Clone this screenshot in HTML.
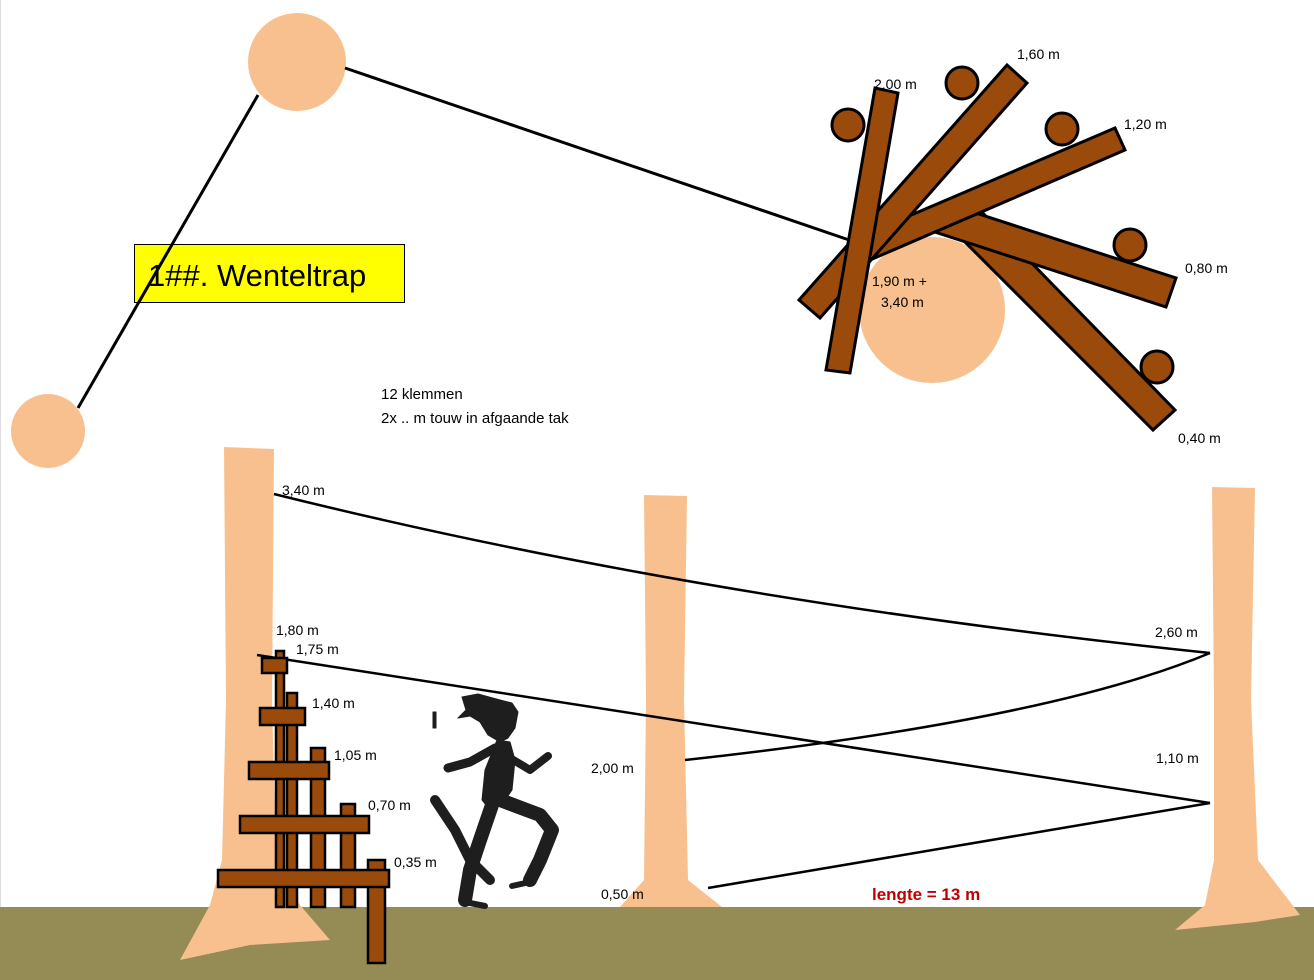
<!DOCTYPE html>
<html><head><meta charset="utf-8"><style>
html,body{margin:0;padding:0;background:#fff;}
svg{display:block;}
text{font-family:"Liberation Sans",sans-serif;font-size:14px;fill:#000;}
</style></head><body>
<svg width="1314" height="980" viewBox="0 0 1314 980" xmlns="http://www.w3.org/2000/svg">
<rect x="0" y="0" width="1314" height="980" fill="#fff"/>
<line x1="0.5" y1="0" x2="0.5" y2="980" stroke="#ddd"/>
<!-- ground -->
<rect x="0" y="907" width="1314" height="73" fill="#948b55"/>
<!-- trees -->
<path d="M224,447 L274,449 L272,700 L276,860 L300,905 L330,940 L250,945 L180,960 L210,905 L222,860 L226,700 Z" fill="#f9c08f"/>
<path d="M644,495 L687,496 L684,700 L688,880 L722,907 L620,907 L644,880 L646,700 Z" fill="#f9c08f"/>
<path d="M1212,487 L1255,488 L1251,700 L1258,860 L1300,915 L1255,922 L1175,930 L1205,905 L1214,860 L1214,700 Z" fill="#f9c08f"/>
<!-- top circles and lines -->
<circle cx="297" cy="62" r="49" fill="#f9c08f"/>
<circle cx="48" cy="431" r="37" fill="#f9c08f"/>
<!-- label -->
<rect x="134.5" y="244.5" width="270" height="58" fill="#ffff00" stroke="#000" stroke-width="1"/>
<text x="148" y="286" style="font-size:31px">1##. Wenteltrap</text>
<line x1="258" y1="95" x2="78" y2="408" stroke="#000" stroke-width="3"/>
<line x1="345" y1="68" x2="855" y2="242" stroke="#000" stroke-width="3"/>
<text x="381" y="399" style="font-size:15px">12 klemmen</text>
<text x="381" y="423" style="font-size:15px">2x .. m touw in afgaande tak</text>
<!-- spiral cluster -->
<circle cx="932" cy="310" r="73" fill="#f9c08f"/>
<g fill="#9a4a0a" stroke="#000" stroke-width="3" stroke-linejoin="miter">
<polygon points="975,205 1175,410 1153,430 948,225"/>
<polygon points="945,203 1176,278 1166,307 935,232"/>
<polygon points="862,236 1115,128 1125,150 870,260"/>
<polygon points="1007,65 1027,83 820,318 799,300"/>
<polygon points="875,88 898,93 850,373 826,370"/>
<circle cx="848" cy="125" r="16"/>
<circle cx="962" cy="83" r="16"/>
<circle cx="1062" cy="129" r="16"/>
<circle cx="1130" cy="245" r="16"/>
<circle cx="1157" cy="367" r="16"/>
</g>
<text x="874" y="89">2,00 m</text>
<text x="1017" y="59">1,60 m</text>
<text x="1124" y="129">1,20 m</text>
<text x="1185" y="273">0,80 m</text>
<text x="1178" y="443">0,40 m</text>
<text x="872" y="286">1,90 m +</text>
<text x="881" y="307">3,40 m</text>
<!-- ropes -->
<g fill="none" stroke="#000" stroke-width="2.5">
<path d="M274,494 Q700,600 1210,653"/>
<path d="M1210,653 Q1050,720 685,760"/>
<line x1="257" y1="655" x2="1210" y2="803"/>
<line x1="1210" y1="803" x2="708" y2="888"/>
</g>
<!-- stairs -->
<g fill="#9a4a0a" stroke="#000" stroke-width="2.5">
<rect x="276" y="651" width="8" height="256"/>
<rect x="287" y="693" width="10" height="214"/>
<rect x="311" y="748" width="14" height="159"/>
<rect x="341" y="804" width="14" height="103"/>
<rect x="368" y="860" width="17" height="103"/>
<rect x="262" y="658" width="25" height="15"/>
<rect x="260" y="708" width="45" height="17"/>
<rect x="249" y="762" width="80" height="17"/>
<rect x="240" y="816" width="129" height="17"/>
<rect x="218" y="870" width="171" height="17"/>
</g>
<text x="276" y="635">1,80 m</text>
<text x="296" y="654">1,75 m</text>
<text x="312" y="708">1,40 m</text>
<text x="334" y="760">1,05 m</text>
<text x="368" y="810">0,70 m</text>
<text x="394" y="867">0,35 m</text>
<text x="282" y="495">3,40 m</text>
<text x="1155" y="637">2,60 m</text>
<text x="1156" y="763">1,10 m</text>
<text x="591" y="773">2,00 m</text>
<text x="601" y="899">0,50 m</text>
<text x="872" y="900" style="font-size:17px;font-weight:bold;fill:#c00000">lengte = 13 m</text>
<!-- runner silhouette -->
<g fill="#1e1e1e" stroke="#1e1e1e" stroke-linecap="round" stroke-linejoin="round">
<path d="M462,697 L478,694 L500,700 L512,703 L518,712 L515,728 L508,738 L500,742 L488,735 L480,722 L470,716 L458,718 L466,710 Z"/>
<path d="M497,740 L510,742 L515,760 L512,790 L505,800 L490,810 L482,800 L485,770 Z"/>
<path d="M495,748 L470,762 L448,768" fill="none" stroke-width="9"/>
<path d="M510,758 L530,770 L548,756" fill="none" stroke-width="8"/>
<path d="M500,800 L540,815 L552,830 L540,860 L530,880" fill="none" stroke-width="14"/>
<path d="M530,882 L512,886" fill="none" stroke-width="6"/>
<path d="M492,805 L480,840 L470,870 L465,900" fill="none" stroke-width="14"/>
<path d="M465,902 L485,906" fill="none" stroke-width="6"/>
<path d="M435,800 L455,830 L470,860 L490,880" fill="none" stroke-width="10"/>
<rect x="433" y="712" width="3" height="16"/>
</g>
</svg>
</body></html>
